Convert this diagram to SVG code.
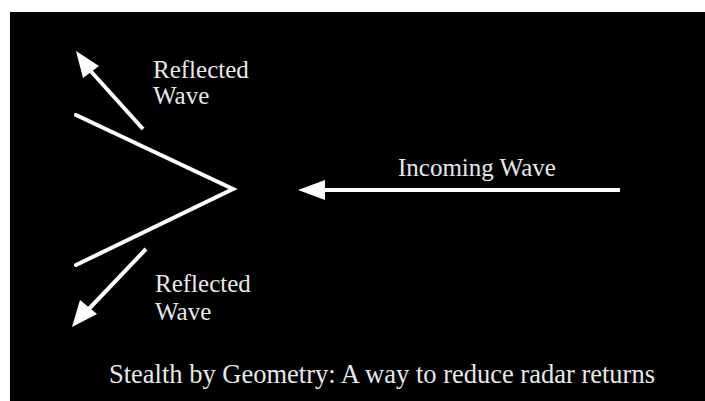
<svg xmlns="http://www.w3.org/2000/svg" width="705" height="401" viewBox="0 0 705 401">
<style>
.t{font-family:"Liberation Serif","Times New Roman",serif;fill:#e8e8e8;font-size:25px}
.ln{stroke:#fff;stroke-width:4;fill:none;stroke-linecap:round}
.ar{stroke:#fff;stroke-width:4;fill:none}
.hd{fill:#fff}
</style>
<rect x="0" y="0" width="705" height="401" fill="#fff"/>
<rect x="10" y="12" width="695" height="389" fill="#000"/>
<g id="reflector">
<polyline class="ln" points="76,115 233,189 76,265"/>
</g>
<g id="connectors">
<line class="ar" x1="143" y1="129" x2="87" y2="67"/>
<polygon class="hd" points="76,51 99,66 83,78"/>
<line class="ar" x1="146" y1="249" x2="85" y2="313"/>
<polygon class="hd" points="72,327 80,300 97,314"/>
<line class="ar" x1="620" y1="190" x2="320" y2="190"/>
<polygon class="hd" points="298,190 325,180 325,200"/>
</g>
<g id="label-reflected-top">
<text class="t" x="153" y="78">Reflected</text>
<text class="t" x="153" y="104">Wave</text>
</g>
<g id="label-reflected-bottom">
<text class="t" x="155" y="292">Reflected</text>
<text class="t" x="155" y="320">Wave</text>
</g>
<g id="label-incoming">
<text class="t" x="398" y="176">Incoming Wave</text>
</g>
<g id="caption">
<text class="t" x="109" y="383" style="font-size:28px" textLength="546" lengthAdjust="spacingAndGlyphs">Stealth by Geometry: A way to reduce radar returns</text>
</g>
</svg>
